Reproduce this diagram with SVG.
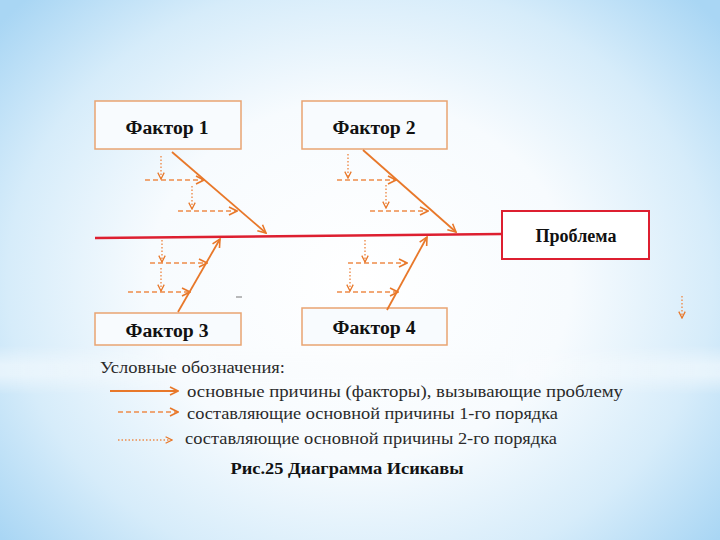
<svg xmlns="http://www.w3.org/2000/svg" width="720" height="540" viewBox="0 0 720 540">
<defs>
<radialGradient id="bg" cx="360" cy="280" r="470" gradientUnits="userSpaceOnUse" gradientTransform="translate(360 280) scale(1 0.85) translate(-360 -280)">
<stop offset="0" stop-color="#ffffff"/>
<stop offset="0.45" stop-color="#f7fbfe"/>
<stop offset="0.75" stop-color="#d6ecfa"/>
<stop offset="1" stop-color="#a9d6f4"/>
</radialGradient>
<linearGradient id="bandH" x1="0" y1="0" x2="1" y2="0">
<stop offset="0" stop-color="#ffffff" stop-opacity="0.5"/>
<stop offset="0.3" stop-color="#ffffff" stop-opacity="0.1"/>
<stop offset="0.7" stop-color="#ffffff" stop-opacity="0.1"/>
<stop offset="1" stop-color="#ffffff" stop-opacity="0.5"/>
</linearGradient>
<linearGradient id="bandV" x1="0" y1="0" x2="0" y2="1">
<stop offset="0" stop-color="#000"/>
<stop offset="0.4" stop-color="#fff"/>
<stop offset="0.6" stop-color="#fff"/>
<stop offset="1" stop-color="#000"/>
</linearGradient>
<mask id="bandMask" maskUnits="userSpaceOnUse" x="0" y="345" width="720" height="50">
<rect x="0" y="345" width="720" height="50" fill="url(#bandV)"/>
</mask>
<marker id="ah" viewBox="0 0 10 10" refX="9" refY="5" markerWidth="10" markerHeight="10" markerUnits="userSpaceOnUse" orient="auto">
<path d="M1,1 L9,5 L1,9" fill="none" stroke="#e8782a" stroke-width="1.6"/>
</marker>
<marker id="ahs" viewBox="0 0 10 10" refX="9" refY="5" markerWidth="8" markerHeight="8" markerUnits="userSpaceOnUse" orient="auto">
<path d="M1,1 L9,5 L1,9" fill="none" stroke="#e8782a" stroke-width="1.6"/>
</marker>
</defs>
<style>
.box{fill:#f8fbfe;stroke:#e9a472;stroke-width:1.5}
.pbox{fill:#ffffff;stroke:#dd1f30;stroke-width:2}
.lbl{font-family:"Liberation Serif","Times New Roman",serif;font-weight:bold;font-size:18px;fill:#111;text-anchor:middle}
.main{stroke:#e8782a;stroke-width:1.8;fill:none;marker-end:url(#ah)}
.d1{stroke:#ee8c4a;stroke-width:1.4;stroke-dasharray:5 3;fill:none;marker-end:url(#ah)}
.d2{stroke:#ee8c4a;stroke-width:1.4;stroke-dasharray:1.5 2;fill:none;marker-end:url(#ahs)}
.leg{font-family:"Liberation Serif","Times New Roman",serif;font-size:17px;fill:#2a2a2a}
</style>
<rect width="720" height="540" fill="url(#bg)"/>
<rect x="0" y="345" width="720" height="50" fill="url(#bandH)" mask="url(#bandMask)"/>

<g id="spine">
<line x1="95" y1="238" x2="502" y2="234" stroke="#dd1f30" stroke-width="2.5"/>
</g>

<g id="factor1">
<rect class="box" x="95" y="101" width="146" height="48"/>
<text class="lbl" x="167" y="134" textLength="83" lengthAdjust="spacingAndGlyphs">Фактор 1</text>
</g>
<g id="factor2">
<rect class="box" x="302" y="101" width="145" height="48"/>
<text class="lbl" x="374" y="134" textLength="83" lengthAdjust="spacingAndGlyphs">Фактор 2</text>
</g>
<g id="factor3">
<rect class="box" x="95" y="313" width="146" height="32"/>
<text class="lbl" x="167" y="337" textLength="83" lengthAdjust="spacingAndGlyphs">Фактор 3</text>
</g>
<g id="factor4">
<rect class="box" x="302" y="308" width="145" height="37"/>
<text class="lbl" x="374" y="334" textLength="83" lengthAdjust="spacingAndGlyphs">Фактор 4</text>
</g>
<g id="problem">
<rect class="pbox" x="502" y="211" width="147" height="48"/>
<text class="lbl" x="576" y="242" textLength="81" lengthAdjust="spacingAndGlyphs">Проблема</text>
</g>

<g id="connectors">
<line class="main" x1="172" y1="152" x2="266" y2="233"/>
<line class="main" x1="363" y1="150" x2="456" y2="232"/>
<line class="main" x1="178" y1="312" x2="220" y2="239"/>
<line class="main" x1="387" y1="310" x2="427" y2="237"/>

<line class="d1" x1="145" y1="180" x2="204" y2="180"/>
<line class="d1" x1="178" y1="211" x2="237" y2="211"/>
<line class="d1" x1="337" y1="180" x2="396" y2="180"/>
<line class="d1" x1="370" y1="211" x2="428" y2="211"/>
<line class="d1" x1="150" y1="263" x2="207" y2="263"/>
<line class="d1" x1="128" y1="292" x2="190" y2="292"/>
<line class="d1" x1="348" y1="263" x2="407" y2="263"/>
<line class="d1" x1="337" y1="292" x2="398" y2="292"/>

<line class="d2" x1="161" y1="156" x2="161" y2="179"/>
<line class="d2" x1="192" y1="186" x2="192" y2="209"/>
<line class="d2" x1="348" y1="154" x2="348" y2="178"/>
<line class="d2" x1="386" y1="185" x2="386" y2="208"/>
<line class="d2" x1="162" y1="240" x2="162" y2="262"/>
<line class="d2" x1="161" y1="268" x2="161" y2="291"/>
<line class="d2" x1="365" y1="240" x2="365" y2="262"/>
<line class="d2" x1="350" y1="268" x2="350" y2="291"/>

<line class="d2" x1="682" y1="296" x2="682" y2="318"/>
<line x1="236" y1="297" x2="242" y2="297" stroke="#777" stroke-width="1"/>
</g>

<g id="legend">
<text class="leg" x="100" y="373" textLength="185" lengthAdjust="spacingAndGlyphs">Условные обозначения:</text>
<line class="main" x1="110" y1="391" x2="178" y2="391"/>
<text class="leg" x="187" y="397" textLength="436" lengthAdjust="spacingAndGlyphs">основные  причины (факторы), вызывающие  проблему</text>
<line class="d1" x1="118" y1="412" x2="178" y2="412"/>
<text class="leg" x="187" y="419" textLength="371" lengthAdjust="spacingAndGlyphs">составляющие основной причины 1-го порядка</text>
<line class="d2" x1="118" y1="440" x2="172" y2="440"/>
<text class="leg" x="185" y="444" textLength="372" lengthAdjust="spacingAndGlyphs">составляющие основной причины 2-го порядка</text>
<text x="347" y="474" text-anchor="middle" font-family="Liberation Serif, Times New Roman, serif" font-weight="bold" font-size="17px" fill="#111" textLength="233" lengthAdjust="spacingAndGlyphs">Рис.25 Диаграмма Исикавы</text>
</g>
</svg>
